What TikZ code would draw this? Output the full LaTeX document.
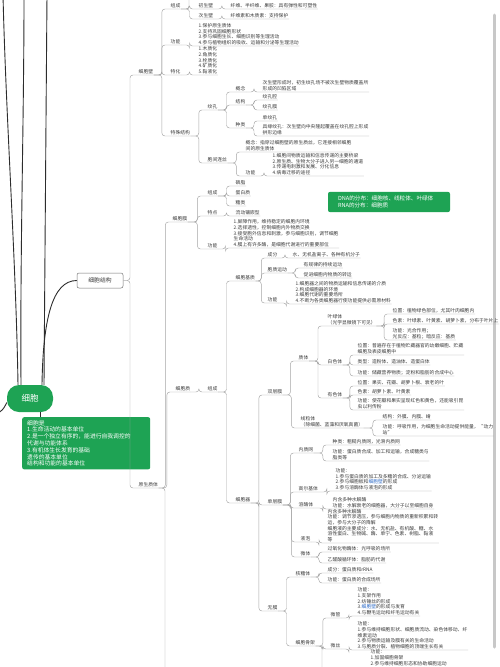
\documentclass[tikz,border=0pt]{standalone}
\usepackage{fontspec}
\setmainfont{Noto Sans CJK SC}
\usetikzlibrary{calc}
\definecolor{MindGreen}{RGB}{30,163,84}
\definecolor{TextGray}{RGB}{60,60,60}
\definecolor{LineGray}{RGB}{165,165,165}
\definecolor{DarkLine}{RGB}{45,45,45}
\definecolor{BarGray}{RGB}{200,200,200}
\definecolor{HiBlue}{RGB}{50,110,200}

\begin{document}
\begin{tikzpicture}[x=1pt, y=-1pt,
    tp/.style={anchor=south west, inner xsep=0.5pt, inner ysep=0.8pt, align=left,
      text=TextGray, font=\fontsize{4.8}{5.7}\selectfont},
    link/.style={draw=LineGray, line width=0.45pt, rounded corners=3pt},
    mainlink/.style={draw=DarkLine, line width=0.9pt},
    greenbox/.style={fill=MindGreen, text=white, rounded corners=2pt, align=left}]

    \fill[white] (0,0) rectangle (500,667);
    \useasboundingbox (0,0) rectangle (500,667);
    \draw[BarGray, line width=3pt, line cap=round] (494,15) -- (494,647);

    % Root
    \node[fill=MindGreen, text=white, rounded corners=12pt, minimum width=46pt,
      minimum height=27pt, font=\fontsize{8.5}{9}\selectfont] (xb) at (30,398.5) {细胞};
    \node[greenbox, anchor=north west, text width=118pt, inner xsep=5pt, inner ysep=3pt,
      font=\fontsize{5.8}{6.8}\selectfont] (dy) at (22,417)
      {细胞是\\1.生命活动的基本单位\\2.是一个独立有序的，能进行自我调控的\\代谢与功能体系\\3.有机体生长发育的基础\\遗传的基本单位\\结构和功能的基本单位};
    \node[draw=LineGray!70!black, fill=white, rounded corners=2pt, minimum width=46pt,
      minimum height=15pt, text=TextGray, font=\fontsize{5.8}{7}\selectfont,
      line width=0.5pt] (xbjg) at (100,280.5) {细胞结构};
    \node[greenbox, text width=102pt, inner xsep=10pt, inner ysep=4pt,
      font=\fontsize{5.6}{7}\selectfont] (dna) at (389,202)
      {DNA的分布：细胞核、线粒体、叶绿体\\RNA的分布：细胞质};

    % Branches leaving the page
    \coordinate (up1) at (3,-5);
    \coordinate (up2) at (24,-5);
    \coordinate (up3) at (47,-5);
    \coordinate (lf) at (-5,415);
    \draw[mainlink] ([xshift=-12pt]xb.north) .. controls (16,260) and (6,120) .. (up1);
    \draw[mainlink] ([xshift=-9pt]xb.north) .. controls (20,250) and (24,120) .. (up2);
    \draw[mainlink] ([xshift=14pt]xb.north) .. controls (45,250) and (46,120) .. (up3);
    \draw[mainlink] ([yshift=-4pt]xb.west) .. controls (3,410) .. (lf);
    \draw[mainlink] ([xshift=12pt]xb.north) .. controls (43,320) and (52,280.5) .. (xbjg.west);
    \draw[mainlink] ([xshift=10pt]xb.south) -- ([xshift=10pt]xb.south |- dy.north);

    % Cell wall
    \node[tp] (xbw) at (138,75) {细胞壁};
    \node[tp] (bwzc) at (170,9) {组成};
    \node[tp] (csb) at (198,9) {初生壁};
    \node[tp] (csbt) at (230,9) {纤维、半纤维、果胶：具有弹性和可塑性};
    \node[tp] (cisb) at (198,19) {次生壁};
    \node[tp] (cisbt) at (230,19) {纤维素和木质素：支持保护};
    \node[tp] (bwgn) at (170,45) {功能};
    \node[tp] (bwgnt) at (198,46) {1.保护原生质体\\2.支持巩固细胞形状\\3.参与细胞生长、细胞识别等生理活动\\4.参与植物组织的吸收、运输和分泌等生理活动};
    \node[tp] (bwth) at (170,75) {特化};
    \node[tp] (bwtht) at (198,75) {1.木质化\\2.角质化\\3.栓质化\\4.矿质化\\5.黏液化};
    \node[tp] (tsjg) at (170,136) {特殊结构};
    \node[tp] (wk) at (207,110) {纹孔};
    \node[tp] (wkgn) at (235,92) {概念};
    \node[tp] (wkgnt) at (262,92) {次生壁形成时，初生纹孔场不被次生壁物质覆盖所\\形成的凹陷区域};
    \node[tp] (wkjg) at (235,105) {结构};
    \node[tp] (wkq) at (262,100) {纹孔腔};
    \node[tp] (wkm) at (262,110) {纹孔膜};
    \node[tp] (wkzl) at (235,128) {种类};
    \node[tp] (dwk) at (262,121) {单纹孔};
    \node[tp] (jywk) at (262,136) {具缘纹孔：次生壁向中央隆起覆盖在纹孔腔上形成\\拱形边缘};
    \node[tp] (bjls) at (207,163) {胞间连丝};
    \node[tp] (bjlsgn) at (245,152) {概念：指穿过细胞壁的原生质丝，它连接相邻细胞\\间的原生质体};
    \node[tp] (bjlsfn) at (245,176) {功能};
    \node[tp] (bjlsfnt) at (272,176) {1.细胞间物质运输和信息传递的主要桥梁\\2.原生质、生物大分子进入另一细胞的通道\\3.传递电刺激和发展、分化信息\\4.病毒迁移的途径};

    % Protoplast: membrane
    \node[tp] (yszt) at (138,488) {原生质体};
    \node[tp] (xbm) at (172,222) {细胞膜};
    \node[tp] (bmzc) at (207,196) {组成};
    \node[tp] (lz) at (235,186) {磷脂};
    \node[tp] (dbz) at (235,196) {蛋白质};
    \node[tp] (tl) at (235,206) {糖类};
    \node[tp] (bmtd) at (207,216) {特点};
    \node[tp] (ldxq) at (235,216) {流动镶嵌型};
    \node[tp] (bmgn) at (207,249) {功能};
    \node[tp] (bmgnt) at (233,248) {1.屏障作用，维持稳定的细胞内环境\\2.选择透性，控制细胞内外物质交换\\3.接受胞外信息和刺激，参与细胞识别，调节细胞\\生命活动\\4.膜上有许多酶，是细胞代谢进行的重要部位};

    % Cytoplasm
    \node[tp] (xbz) at (175,392) {细胞质};
    \node[tp] (bzzc) at (207,392) {组成};
    \node[tp] (xbjz) at (235,281) {细胞基质};
    \node[tp] (jzcf) at (267,258) {成分};
    \node[tp] (jzcft) at (292,258) {水、无机盐离子、各种有机分子};
    \node[tp] (bzyd) at (267,273) {胞质运动};
    \node[tp] (bzyd1) at (303,268) {有规律的持续运动};
    \node[tp] (bzyd2) at (303,278) {促进细胞内物质的转运};
    \node[tp] (jzgn) at (267,303) {功能};
    \node[tp] (jzgnt) at (295,304) {1.细胞器之间的物质运输和信息传递的介质\\2.构成细胞器的环境\\3.细胞代谢的重要场所\\4.不断为各类细胞器行使功能提供必需原材料};
    \node[tp] (xbq) at (235,503) {细胞器};

    % Double membrane
    \node[tp] (scm) at (267,395) {双层膜};
    \node[tp] (zt) at (298,361) {质体};
    \node[tp] (ylt) at (327,326) {叶绿体\\（光学显微镜下可见）};
    \node[tp] (ylt1) at (392,314) {位置：植物绿色部位，尤其叶肉细胞内};
    \node[tp] (ylt2) at (392,324) {色素：叶绿素、叶黄素、胡萝卜素，分布于叶片上};
    \node[tp] (ylt3) at (392,340) {功能：光合作用；\\光反应：基粒；暗反应：基质};
    \node[tp] (bst) at (327,365) {白色体};
    \node[tp] (bst1) at (357,355) {位置：普遍存在于植物贮藏器官的幼嫩细胞、贮藏\\细胞及表皮细胞中};
    \node[tp] (bst2) at (357,365) {类型：造粉体、造油体、造蛋白体};
    \node[tp] (bst3) at (357,376) {功能：储藏营养物质；淀粉和脂肪的合成中心};
    \node[tp] (yst) at (327,398) {有色体};
    \node[tp] (yst1) at (357,386) {位置：果实、花瓣、胡萝卜根、衰老的叶};
    \node[tp] (yst2) at (357,395) {色素：胡萝卜素、叶黄素};
    \node[tp] (yst3) at (357,410) {功能：使花瓣和果实呈现红色和黄色，还能吸引昆\\虫以利传粉};
    \node[tp] (xlt) at (300,428) {线粒体\\（除细菌、蓝藻和厌氧真菌）};
    \node[tp] (xlt1) at (382,420) {结构：外膜、内膜、嵴};
    \node[tp] (xlt2) at (382,436) {功能：呼吸作用，为细胞生命活动提供能量，“动力\\站”};

    % Single membrane
    \node[tp] (dcm) at (267,505) {单层膜};
    \node[tp] (nzw) at (298,453) {内质网};
    \node[tp] (nzw1) at (332,445) {种类：粗糙内质网，光滑内质网};
    \node[tp] (nzw2) at (332,461) {功能：蛋白质合成、加工和运输，合成糖类与\\脂类等};
    \node[tp] (gejt) at (298,492) {高尔基体};
    \node[tp] (gejt1) at (335,491) {功能：\\1.参与蛋白质的加工及多糖的合成、分泌运输\\2.参与细胞板和\textcolor{HiBlue}{细胞壁}的形成\\3.参与溶酶体与液泡的形成};
    \node[tp] (rmt) at (298,508) {溶酶体};
    \node[tp] (rmt1) at (332,509) {内含多种水解酶\\功能：水解衰老的细胞器，大分子以至细胞自身};
    \node[tp] (yp) at (300,542) {液泡};
    \node[tp] (yp1) at (327,543) {内含多种水解酶\\功能：调节渗透压，参与细胞内物质的重新积累和转\\运，参与大分子的降解\\细胞液的主要成分：水、无机盐、有机酸、糖、水\\溶性蛋白、生物碱、酶、单宁、色素、树脂、黏液\\等};
    \node[tp] (wt) at (300,557) {微体};
    \node[tp] (wt1) at (327,552) {过氧化物酶体：光呼吸的场所};
    \node[tp] (wt2) at (327,563) {乙醛酸循环体：脂肪的代谢};

    % No membrane
    \node[tp] (wm) at (267,611) {无膜};
    \node[tp] (htt) at (295,577) {核糖体};
    \node[tp] (htt1) at (327,573) {成分：蛋白质和rRNA};
    \node[tp] (htt2) at (327,583) {功能：蛋白质的合成场所};
    \node[tp] (xbgj) at (295,646) {细胞骨架};
    \node[tp] (wg) at (330,618) {微管};
    \node[tp] (wg1) at (357,616) {功能：\\1.支架作用\\2.纺锤丝的形成\\3.\textcolor{HiBlue}{细胞壁}的形成与发育\\4.与鞭毛运动和纤毛运动有关};
    \node[tp] (ws) at (330,649) {微丝};
    \node[tp] (ws1) at (357,650) {功能：\\1.参与维持细胞形状、细胞质流动、染色体移动、纤\\维素运动\\2.参与物质运输及膜有关的生命活动\\3.与胞质分裂、植物细胞的顶端生长有关};
    \node[tp] (zjxw1) at (370,666.5) {功能：\\1.加固细胞骨架\\2.参与维持细胞形态和协助细胞运动};

    % Connectors
    \foreach \dst in {xbw,yszt}
      \draw[link] let \p2=(\dst.south west) in
        (xbjg.east) -- (130,280.5) |- (\p2) -- (\dst.south east);
    \foreach \src/\dst in {xbw/bwzc, xbw/bwgn, xbw/bwth, xbw/tsjg,
        bwzc/csb, bwzc/cisb, csb/csbt, cisb/cisbt, bwgn/bwgnt, bwth/bwtht,
        tsjg/wk, tsjg/bjls, wk/wkgn, wk/wkjg, wk/wkzl, wkgn/wkgnt,
        wkjg/wkq, wkjg/wkm, wkzl/dwk, wkzl/jywk,
        bjls/bjlsgn, bjls/bjlsfn, bjlsfn/bjlsfnt,
        yszt/xbm, yszt/xbz,
        xbm/bmzc, xbm/bmtd, xbm/bmgn, bmzc/lz, bmzc/dbz, bmzc/tl, bmtd/ldxq, bmgn/bmgnt,
        xbz/bzzc, bzzc/xbjz, bzzc/xbq,
        xbjz/jzcf, xbjz/bzyd, xbjz/jzgn, jzcf/jzcft, bzyd/bzyd1, bzyd/bzyd2, jzgn/jzgnt,
        xbq/scm, xbq/dcm, xbq/wm,
        scm/zt, scm/xlt, zt/ylt, zt/bst, zt/yst,
        ylt/ylt1, ylt/ylt2, ylt/ylt3, bst/bst1, bst/bst2, bst/bst3,
        yst/yst1, yst/yst2, yst/yst3, xlt/xlt1, xlt/xlt2,
        dcm/nzw, dcm/gejt, dcm/rmt, dcm/yp, dcm/wt,
        nzw/nzw1, nzw/nzw2, gejt/gejt1, rmt/rmt1, yp/yp1, wt/wt1, wt/wt2,
        wm/htt, wm/xbgj, htt/htt1, htt/htt2,
        xbgj/wg, xbgj/ws, wg/wg1, ws/ws1}
      \draw[link] let \p1=(\src.south east), \p2=(\dst.south west) in
        (\p1) -- ({(\x1+\x2)/2},\y1) |- (\p2) -- (\dst.south east);

    % Children cut off by the page edge
    \coordinate (bjc) at (198,-8);
    \coordinate (xbh) at (172,690);
    \coordinate (zjxw) at (330,680);
    \draw[link] (bwzc.south east) -- (189,9) |- (bjc);
    \draw[link] (yszt.south east) -- (165,488) |- (xbh);
    \draw[link] (xbgj.south east) -- (322,646) |- (zjxw);
\end{tikzpicture}
\end{document}
